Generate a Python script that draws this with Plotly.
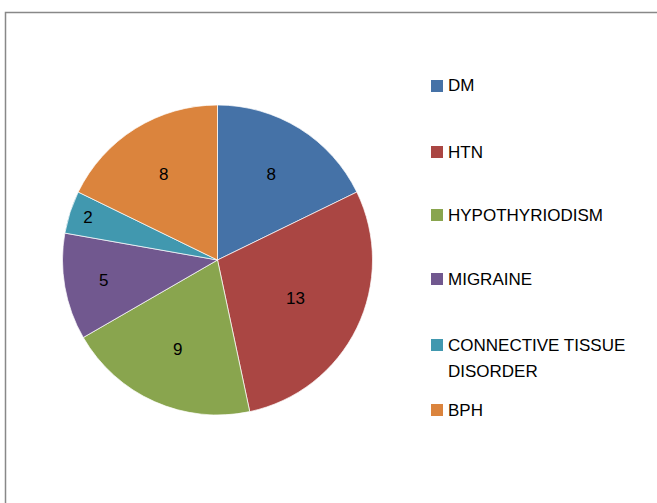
import plotly.graph_objects as go

categories = ["DM", "HTN", "HYPOTHYRIODISM", "MIGRAINE", "CONNECTIVE TISSUE DISORDER", "BPH"]
legend_lines = [["DM"], ["HTN"], ["HYPOTHYRIODISM"], ["MIGRAINE"], ["CONNECTIVE TISSUE", "DISORDER"], ["BPH"]]
values = [8, 13, 9, 5, 2, 8]
colors = ["#4572A7", "#AA4643", "#89A54E", "#71588F", "#4198AF", "#DB843D"]

W, H = 657, 503
FONT = "Liberation Sans"
FS = 17

fig = go.Figure()
fig.add_trace(go.Pie(
    labels=categories,
    values=values,
    sort=False,
    direction="clockwise",
    rotation=0,
    marker=dict(colors=colors, line=dict(color="rgba(255,255,255,0.7)", width=1)),
    textinfo="value",
    textposition="inside",
    insidetextorientation="horizontal",
    textfont=dict(family=FONT, size=FS, color="black"),
    domain=dict(x=[62 / W, 373 / W], y=[1 - 415 / H, 1 - 105 / H]),
    showlegend=False,
    hoverinfo="label+value",
))

# legend drawn as shapes + annotations
legend_y = [86, 152, 215, 279, 345, 410]
LINE_GAP = 26
for lines, col, yy in zip(legend_lines, colors, legend_y):
    fig.add_shape(type="rect", xref="paper", yref="paper",
                  x0=431 / W, x1=443 / W, y0=1 - (yy + 6) / H, y1=1 - (yy - 6) / H,
                  fillcolor=col, line=dict(width=0))
    for i, ln in enumerate(lines):
        fig.add_annotation(xref="paper", yref="paper", x=446 / W,
                           y=1 - (yy + i * LINE_GAP) / H,
                           xanchor="left", yanchor="middle", text=ln, showarrow=False,
                           align="left",
                           font=dict(family=FONT, size=FS, color="black"))

# chart border
fig.add_shape(type="rect", xref="paper", yref="paper",
              x0=5.5 / W, x1=1.2, y0=-0.2, y1=1 - 12.5 / H,
              line=dict(color="#888888", width=1.5), fillcolor="rgba(0,0,0,0)")

fig.update_layout(
    width=W, height=H,
    margin=dict(l=0, r=0, t=0, b=0),
    paper_bgcolor="white", plot_bgcolor="white",
    font=dict(family=FONT),
)
fig.write_html("out.html", config={"displayModeBar": False},
               post_script="document.body.style.margin='0';document.body.style.overflow='hidden';")
